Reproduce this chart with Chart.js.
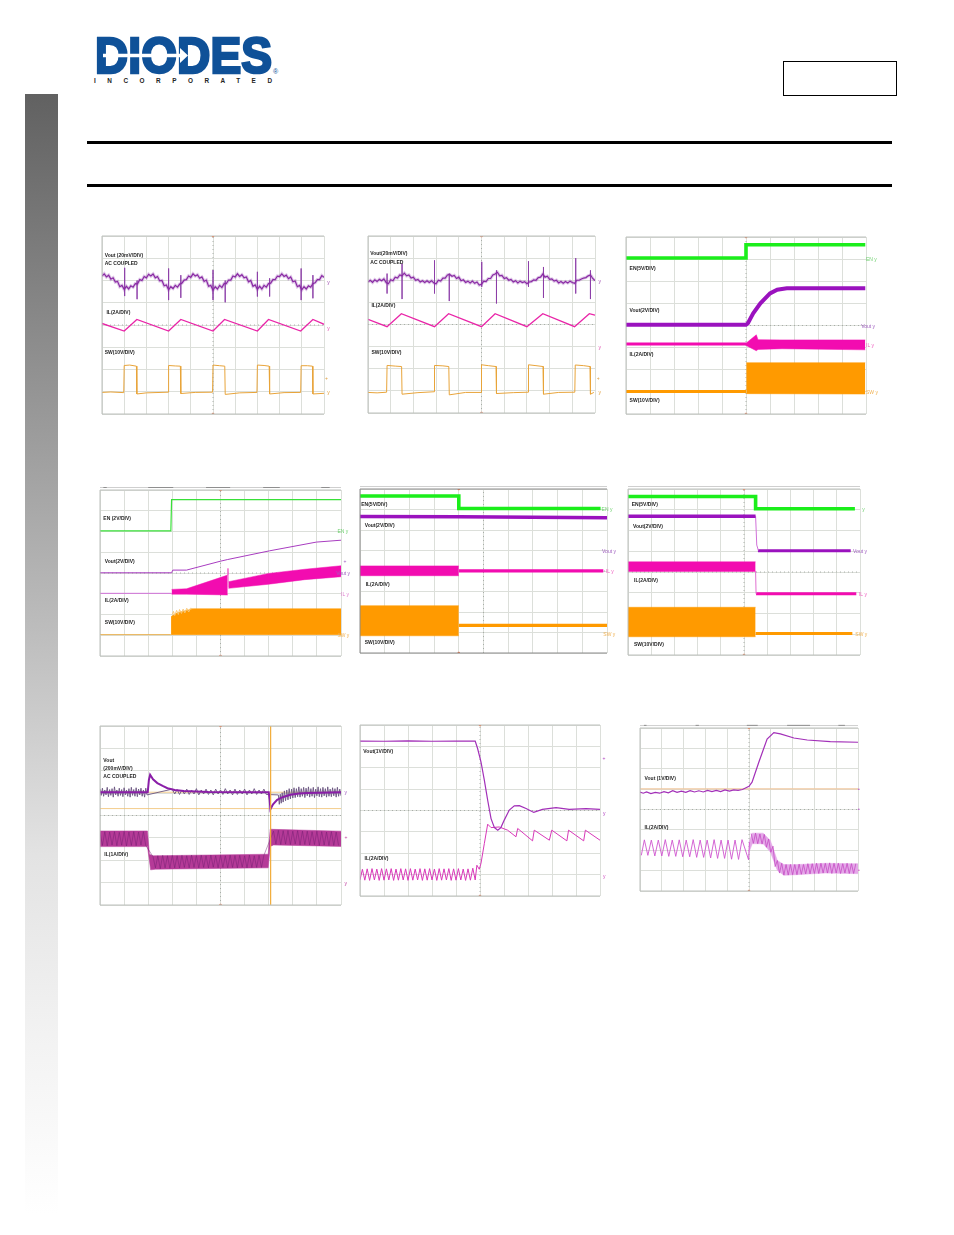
<!DOCTYPE html>
<html>
<head>
<meta charset="utf-8">
<title>Typical Performance Characteristics</title>
<script src="https://cdn.jsdelivr.net/npm/chart.js@4"></script>
<style>
    html, body { margin: 0; padding: 0; background: #fff; }
    body { position: relative; width: 954px; height: 1235px; overflow: hidden; }
    canvas { position: absolute; filter: blur(0.35px); }
    .rule { position: absolute; left: 87px; width: 805px; height: 3px; background: #000; }
    #sidebar { position: absolute; left: 25px; top: 94px; width: 33px; height: 1120px;
        background: linear-gradient(#616161 0%, #8c8c8c 22%, #bdbdbd 48%, #e3e3e3 68%, #f3f3f3 85%, #fff 100%); }
    #partbox { position: absolute; left: 783px; top: 61px; width: 112px; height: 33px; border: 1px solid #000; }
    #logo { position: absolute; left: 0; top: 0; opacity: 0.99; }
</style>
</head>
<body>
<div id="sidebar"></div>
<div id="partbox"></div>
<div class="rule" style="top:141px"></div>
<div class="rule" style="top:184px"></div>
<svg id="logo" width="300" height="90">
    <text x="95" y="72.5" font-family="Liberation Sans" font-weight="700" font-size="50" fill="#0d4f97" stroke="#0d4f97" stroke-width="2.6" textLength="177" lengthAdjust="spacingAndGlyphs">DIODES</text>
    <polygon points="103,53.8 180,53.8 180,48 188,55.5 180,63 180,57.2 103,57.2" fill="#fff"/>
    <text x="94" y="82.5" font-family="Liberation Sans" font-weight="700" font-size="6.4" fill="#222" textLength="178">INCORPORATED</text>
    <text x="273" y="74" font-family="Liberation Sans" font-size="7" fill="#0d4f97">®</text>
</svg>
<script>
// Toutes les traces sont en divisions d'oscilloscope : x 0..10, y 0..8 (0 en bas)
const axisH = [[0, 4], [10, 4]];
const axisV = [[5, 0], [5, 8]];

// Panneau 1 : ondulation
const p1Vout = [[0,6.2],[0.1,6.3],[0.2,6.16],[0.3,6.24],[0.4,6.06],[0.5,6.12],[0.6,5.93],[0.7,5.96],[0.8,5.72],[0.9,5.78],[1.0,5.6],[1.1,5.74],[1.2,5.62],[1.3,5.76],[1.4,5.7],[1.5,5.86],[1.6,5.85],[1.7,6.04],[1.8,6.0],[1.9,6.18],[2.0,6.12],[2.1,6.28],[2.2,6.2],[2.3,6.29],[2.4,6.12],[2.5,6.18],[2.6,5.98],[2.7,6.0],[2.8,5.76],[2.9,5.8],[3.0,5.58],[3.1,5.72],[3.2,5.64],[3.3,5.78],[3.4,5.7],[3.5,5.84],[3.6,5.88],[3.7,6.02],[3.8,6.04],[3.9,6.2],[4.0,6.14],[4.1,6.3],[4.2,6.2],[4.3,6.26],[4.4,6.1],[4.5,6.16],[4.6,5.96],[4.7,6.02],[4.8,5.74],[4.9,5.78],[5.0,5.56],[5.1,5.72],[5.2,5.62],[5.3,5.78],[5.4,5.68],[5.5,5.86],[5.6,5.86],[5.7,6.02],[5.8,6.02],[5.9,6.2],[6.0,6.16],[6.1,6.3],[6.2,6.18],[6.3,6.26],[6.4,6.12],[6.5,6.16],[6.6,5.94],[6.7,6.0],[6.8,5.74],[6.9,5.8],[7.0,5.6],[7.1,5.74],[7.2,5.62],[7.3,5.78],[7.4,5.7],[7.5,5.86],[7.6,5.88],[7.7,6.04],[7.8,6.04],[7.9,6.2],[8.0,6.18],[8.1,6.3],[8.2,6.18],[8.3,6.24],[8.4,6.08],[8.5,6.16],[8.6,5.94],[8.7,5.98],[8.8,5.72],[8.9,5.78],[9.0,5.58],[9.1,5.72],[9.2,5.62],[9.3,5.76],[9.4,5.7],[9.5,5.86],[9.6,5.9],[9.7,6.04],[9.8,6.04],[9.9,6.22],[10.0,6.14],[10.15,5.94]];
const p1Spikes = [[1.02,6.57],[1.02,5.3],[1.02,null],[1.58,6.0],[1.58,5.16],[1.58,null],[3.0,6.54],[3.0,5.12],[3.0,null],[3.55,6.24],[3.55,5.22],[3.55,null],[5.0,6.47],[5.0,5.12],[5.0,null],[5.55,6.0],[5.55,5.02],[5.55,null],[7.0,6.39],[7.0,5.28],[7.0,null],[7.55,6.1],[7.55,5.28],[7.55,null],[8.97,6.54],[8.97,5.12],[8.97,null],[9.5,6.24],[9.5,5.2]];
const p1IL = [[0,4.07],[1.0,3.73],[1.57,4.25],[3.0,3.73],[3.55,4.25],[5,3.73],[5.52,4.25],[7,3.73],[7.5,4.25],[8.95,3.73],[9.5,4.25],[10.15,3.97]];
const p1SW = [[0,0.97],[0.4,0.99],[0.98,0.96],[1.0,2.18],[1.25,2.2],[1.55,2.15],[1.57,0.9],[2.0,0.95],[2.98,0.98],[3.0,2.18],[3.3,2.16],[3.53,2.15],[3.55,0.92],[4.2,0.97],[4.98,0.98],[5.0,2.2],[5.3,2.17],[5.53,2.15],[5.55,0.88],[6.2,0.95],[6.98,0.97],[7.0,2.2],[7.3,2.18],[7.53,2.15],[7.55,0.9],[8.2,0.96],[8.95,0.97],[8.97,2.17],[9.25,2.17],[9.48,2.15],[9.5,0.9],[10,0.93]];

// Panneau 2 : ondulation
const p2Vout = [[0,5.92],[0.1,6.0],[0.2,5.9],[0.3,6.02],[0.4,5.94],[0.5,6.04],[0.6,5.98],[0.7,6.06],[0.8,5.9],[0.9,5.84],[1.0,6.02],[1.1,5.98],[1.2,6.14],[1.3,6.1],[1.4,6.24],[1.5,6.2],[1.6,6.32],[1.7,6.2],[1.8,6.24],[1.9,6.1],[2.0,6.14],[2.1,6.0],[2.2,6.04],[2.3,5.92],[2.4,5.98],[2.5,5.9],[2.6,5.98],[2.7,5.9],[2.8,5.98],[2.9,5.88],[3.0,5.84],[3.1,6.0],[3.2,5.96],[3.3,6.1],[3.4,6.1],[3.5,6.24],[3.6,6.26],[3.7,6.18],[3.8,6.22],[3.9,6.08],[4.0,6.14],[4.1,5.98],[4.2,6.02],[4.3,5.9],[4.4,5.96],[4.5,5.88],[4.6,5.96],[4.7,5.86],[4.8,5.92],[4.9,5.78],[5.0,5.82],[5.1,5.96],[5.2,5.94],[5.3,6.08],[5.4,6.08],[5.5,6.24],[5.6,6.28],[5.7,6.36],[5.8,6.2],[5.9,6.22],[6.0,6.08],[6.1,6.12],[6.2,6.0],[6.3,6.04],[6.4,5.92],[6.5,5.98],[6.6,5.88],[6.7,5.96],[6.8,5.9],[6.9,5.94],[7.0,5.84],[7.1,5.92],[7.2,5.94],[7.3,6.02],[7.4,6.0],[7.5,6.12],[7.6,6.14],[7.7,6.28],[7.8,6.14],[7.9,6.18],[8.0,6.04],[8.1,6.06],[8.2,5.96],[8.3,6.0],[8.4,5.88],[8.5,5.94],[8.6,5.86],[8.7,5.94],[8.8,5.88],[8.9,5.96],[9.0,5.9],[9.1,5.86],[9.2,6.0],[9.3,6.0],[9.4,6.06],[9.5,6.1],[9.6,6.12],[9.7,6.2],[9.8,6.24],[9.9,6.08],[10.0,5.98],[10.1,5.92]];
const p2Spikes = [[0.84,6.3],[0.84,5.4],[0.84,null],[1.5,6.75],[1.5,5.15],[1.5,null],[2.93,6.9],[2.93,5.4],[2.93,null],[3.58,6.3],[3.58,5.06],[3.58,null],[5.01,6.83],[5.01,5.7],[5.01,null],[5.66,6.45],[5.66,4.95],[5.66,null],[7.07,6.86],[7.07,5.7],[7.07,null],[7.73,6.6],[7.73,5.2],[7.73,null],[9.15,7.0],[9.15,5.4],[9.15,null],[9.8,6.45],[9.8,5.15]];
const p2IL = [[0,4.23],[0.84,3.9],[1.47,4.49],[2.93,3.9],[3.55,4.49],[5,3.9],[5.6,4.49],[7,3.9],[7.7,4.49],[9.1,3.9],[9.75,4.49],[10,4.42]];
const p2SW = [[0,0.93],[0.4,0.91],[0.82,0.94],[0.84,2.15],[1.2,2.12],[1.48,2.1],[1.5,0.85],[2.2,0.92],[2.91,0.96],[2.93,2.15],[3.3,2.13],[3.56,2.1],[3.58,0.82],[4.3,0.93],[4.98,0.93],[5.0,2.18],[5.3,2.14],[5.64,2.1],[5.66,0.88],[6.4,0.92],[7.05,0.94],[7.07,2.18],[7.4,2.14],[7.71,2.1],[7.73,0.85],[8.4,0.93],[9.11,0.94],[9.13,2.17],[9.5,2.14],[9.78,2.1],[9.8,0.85],[9.95,0.93]];

// Panneau 3 : démarrage par EN
const p3EN = [[0,7.05],[5,7.05],[5,7.65],[9.97,7.65]];
const p3Vout = [[0,4.03],[5,4.03],[5.08,4.1],[5.3,4.55],[5.6,5.0],[6.0,5.45],[6.3,5.62],[6.7,5.68],[9.97,5.68]];
const p3ILline = [[0,3.16],[5,3.16]];
const p3ILtop = [[5,3.2],[5.43,3.58],[5.5,3.36],[6.5,3.35],[9.97,3.35]];
const p3ILbot = [[5,3.1],[5.43,2.86],[5.5,2.92],[6.5,2.95],[9.97,2.9]];
const p3SWline = [[0,1.02],[5,1.02]];
const p3SWtop = [[5.01,2.32],[9.97,2.32]];
const p3SWbot = [[5.01,0.92],[9.97,0.9]];

// Panneau 4 : démarrage détaillé
const p4EN = [[0,6.03],[2.94,6.03],[2.97,7.54],[10,7.54]];
const p4Vout = [[0,4.01],[2.97,4.01],[3.02,4.14],[3.59,4.14],[5,4.57],[5.3,4.65],[7.04,5.07],[8.98,5.49],[10,5.58]];
const p4ILbase = [[0,3.02],[2.97,3.02]];
const p4ILspike = [[5.3,3.9],[5.31,4.22],[5.32,3.3]];
const p4ILtop1 = [[2.97,3.21],[3.59,3.24],[5.3,3.9]];
const p4ILbot1 = [[2.97,2.98],[3.59,2.98],[5.3,2.94]];
const p4ILtop2 = [[5.33,3.58],[7,3.98],[8.5,4.18],[10,4.35]];
const p4ILbot2 = [[5.33,3.26],[7,3.46],[8.5,3.68],[10,3.82]];
const p4SWbase = [[0,1.03],[2.94,1.03]];
const p4SWtop = [[2.95,1.9],[3.2,2.08],[3.87,2.28],[10,2.28]];
const p4SWbot = [[2.95,1.03],[3.2,1.03],[3.87,1.03],[10,1.03]];
const p4SWnoise = [[3.0,2.0],[3.05,2.15],[3.1,1.95],[3.18,2.2],[3.25,2.0],[3.3,2.24],[3.38,2.05],[3.45,2.26],[3.52,2.08],[3.6,2.3],[3.68,2.12],[3.75,2.3],[3.87,2.28]];
const p4Header = [[0.14,8.12],[0.28,8.12],[0.28,null],[2,8.12],[3.04,8.12],[3.04,null],[4.4,8.12],[5.4,8.12],[5.4,null],[6.77,8.12],[7.46,8.12],[7.46,null],[9.18,8.12],[9.53,8.12]];

// Panneau 5 : arrêt, EN
const p5EN = [[0,7.66],[4,7.66],[4,7.05],[9.74,7.05]];
const p5Vout = [[0,6.66],[4,6.65],[7,6.62],[10,6.6]];
const p5ILtop = [[0,4.25],[4,4.25]];
const p5ILbot = [[0,3.77],[4,3.77]];
const p5ILline = [[4,4.01],[9.85,4.01]];
const p5SWtop = [[0,2.31],[4,2.31]];
const p5SWbot = [[0,0.84],[4,0.84]];
const p5SWline = [[4,1.35],[10,1.35]];

// Panneau 6 : arrêt, EN (décharge)
const p6EN = [[0,7.64],[5.5,7.64],[5.5,7.05],[9.78,7.05]];
const p6Vout1 = [[0,6.69],[5.5,6.69]];
const p6Vfall = [[5.5,6.69],[5.55,5.3],[5.62,5.04]];
const p6Vout2 = [[5.6,5.02],[9.6,5.02]];
const p6ILtop = [[0,4.49],[5.5,4.49]];
const p6ILbot = [[0,4.03],[5.5,4.03]];
const p6ILfall = [[5.5,4.03],[5.52,2.95]];
const p6ILline = [[5.52,2.95],[9.84,2.95]];
const p6SWtop = [[0,2.3],[5.5,2.3]];
const p6SWbot = [[0,0.88],[5.5,0.88]];
const p6SWline = [[5.5,1.04],[9.67,1.04]];

// Panneau 7 : transitoire de charge
const p7Vout = [[0,5.04],[1.98,5.04],[2.03,5.6],[2.08,5.82],[2.2,5.62],[2.38,5.45],[2.6,5.32],[2.8,5.22],[3.1,5.14],[3.48,5.09],[4.5,5.05],[7.0,5.04],[7.04,4.7],[7.07,4.28],[7.18,4.5],[7.35,4.7],[7.6,4.83],[7.9,4.93],[8.25,4.98],[8.6,5.01],[10,5.04]];
const p7Noise = [[0,5.18],[0.05,4.9],[0.1,5.22],[0.15,4.86],[0.2,5.14],[0.25,4.92],[0.3,5.26],[0.35,4.84],[0.4,5.16],[0.45,4.9],[0.5,5.2],[0.55,4.82],[0.6,5.28],[0.65,4.92],[0.7,5.14],[0.75,4.86],[0.8,5.22],[0.85,4.9],[0.9,5.16],[0.95,4.84],[1.0,5.24],[1.05,4.92],[1.1,5.14],[1.15,4.86],[1.2,5.2],[1.25,4.82],[1.3,5.26],[1.35,4.9],[1.4,5.16],[1.45,4.86],[1.5,5.24],[1.55,4.84],[1.6,5.18],[1.65,4.92],[1.7,5.22],[1.75,4.86],[1.8,5.14],[1.85,4.82],[1.9,5.22],[1.95,4.92],[3.0,5.18],[3.1,4.96],[3.2,5.16],[3.3,4.94],[3.4,5.14],[3.5,4.96],[3.6,5.18],[3.7,4.94],[3.8,5.14],[3.9,4.96],[4.0,5.2],[4.1,4.92],[4.2,5.14],[4.3,4.96],[4.4,5.18],[4.5,4.94],[4.6,5.14],[4.7,4.92],[4.8,5.18],[4.9,4.96],[5.0,5.14],[5.1,4.94],[5.2,5.2],[5.3,4.96],[5.4,5.14],[5.5,4.92],[5.6,5.18],[5.7,4.94],[5.8,5.14],[5.9,4.96],[6.0,5.18],[6.1,4.92],[6.2,5.14],[6.3,4.96],[6.4,5.2],[6.5,4.94],[6.6,5.14],[6.7,4.96],[6.8,5.18],[6.9,4.94],[7.4,4.92],[7.44,4.5],[7.48,4.95],[7.52,4.55],[7.56,5.02],[7.6,4.6],[7.65,5.1],[7.7,4.66],[7.75,5.14],[7.8,4.7],[7.85,5.2],[7.9,4.74],[7.95,5.18],[8.0,4.78],[8.05,5.24],[8.1,4.8],[8.15,5.2],[8.2,4.84],[8.25,5.28],[8.3,4.82],[8.35,5.2],[8.4,4.86],[8.45,5.26],[8.5,4.8],[8.55,5.22],[8.6,4.88],[8.65,5.28],[8.7,4.82],[8.75,5.2],[8.8,4.86],[8.85,5.26],[8.9,4.8],[8.95,5.18],[9.0,4.88],[9.05,5.28],[9.1,4.84],[9.15,5.2],[9.2,4.82],[9.25,5.26],[9.3,4.88],[9.35,5.2],[9.4,4.82],[9.45,5.28],[9.5,4.86],[9.55,5.18],[9.6,4.84],[9.65,5.24],[9.7,4.88],[9.75,5.2],[9.8,4.82],[9.85,5.26],[9.9,4.86],[9.95,5.18],[10,4.88]];
const p7ILtop = [[0,3.31],[1.97,3.31],[2.05,2.27],[2.2,2.2],[6.98,2.27],[7.06,3.39],[7.2,3.38],[10,3.3]];
const p7ILbot = [[0,2.61],[1.97,2.61],[2.1,1.57],[2.3,1.6],[6.98,1.66],[7.06,2.62],[7.2,2.68],[10,2.62]];
const p7Ripple = [[0,3.25],[0.1,2.66],[0.2,3.28],[0.3,2.64],[0.4,3.26],[0.5,2.68],[0.6,3.28],[0.7,2.65],[0.8,3.25],[0.9,2.67],[1.0,3.29],[1.1,2.64],[1.2,3.26],[1.3,2.66],[1.4,3.28],[1.5,2.65],[1.6,3.26],[1.7,2.68],[1.8,3.28],[1.9,2.66],[2.2,2.16],[2.3,1.66],[2.4,2.2],[2.5,1.62],[2.6,2.22],[2.7,1.66],[2.8,2.2],[2.9,1.64],[3.0,2.22],[3.1,1.66],[3.2,2.2],[3.3,1.65],[3.4,2.22],[3.5,1.68],[3.6,2.2],[3.7,1.66],[3.8,2.23],[3.9,1.68],[4.0,2.21],[4.1,1.66],[4.2,2.23],[4.3,1.68],[4.4,2.2],[4.5,1.66],[4.6,2.23],[4.7,1.69],[4.8,2.2],[4.9,1.66],[5.0,2.22],[5.1,1.68],[5.2,2.2],[5.3,1.66],[5.4,2.23],[5.5,1.68],[5.6,2.21],[5.7,1.66],[5.8,2.22],[5.9,1.69],[6.0,2.2],[6.1,1.66],[6.2,2.23],[6.3,1.68],[6.4,2.2],[6.5,1.68],[6.6,2.22],[6.7,1.68],[6.8,2.22],[7.2,3.3],[7.3,2.72],[7.4,3.34],[7.5,2.7],[7.6,3.32],[7.7,2.72],[7.8,3.33],[7.9,2.7],[8.0,3.3],[8.1,2.72],[8.2,3.32],[8.3,2.68],[8.4,3.3],[8.5,2.7],[8.6,3.3],[8.7,2.68],[8.8,3.28],[8.9,2.7],[9.0,3.3],[9.1,2.66],[9.2,3.28],[9.3,2.68],[9.4,3.26],[9.5,2.66],[9.6,3.28],[9.7,2.66],[9.8,3.26],[9.9,2.66]];
const p7CursorV = [[7.08,0],[7.08,8]];
const p7CursorA = [[0,5.04],[10,5.04]];
const p7CursorB = [[0,4.31],[10,4.31]];

// Panneau 8 : court-circuit
const p8Vout = [[0,7.25],[1,7.24],[2,7.26],[3,7.24],[4,7.25],[4.8,7.25],[4.9,6.9],[5.04,6.28],[5.18,5.42],[5.32,4.48],[5.46,3.62],[5.6,3.2],[5.74,3.08],[5.87,3.2],[6.01,3.55],[6.22,4.02],[6.43,4.22],[6.64,4.23],[6.92,4.09],[7.24,3.91],[7.6,4.05],[8.17,4.13],[8.72,4.05],[9.42,4.09],[10,4.05]];
const p8IL = [[0,0.75],[0.1,1.25],[0.2,0.74],[0.3,1.27],[0.4,0.73],[0.5,1.28],[0.6,0.75],[0.7,1.26],[0.8,0.73],[0.9,1.28],[1.0,0.74],[1.1,1.27],[1.2,0.75],[1.3,1.28],[1.4,0.73],[1.5,1.26],[1.6,0.74],[1.7,1.28],[1.8,0.75],[1.9,1.27],[2.0,0.73],[2.1,1.28],[2.2,0.74],[2.3,1.26],[2.4,0.75],[2.5,1.28],[2.6,0.73],[2.7,1.27],[2.8,0.74],[2.9,1.28],[3.0,0.75],[3.1,1.26],[3.2,0.73],[3.3,1.28],[3.4,0.74],[3.5,1.27],[3.6,0.75],[3.7,1.28],[3.8,0.73],[3.9,1.27],[4.0,0.74],[4.1,1.28],[4.2,0.75],[4.3,1.26],[4.4,0.73],[4.5,1.27],[4.6,0.74],[4.7,1.3],[4.8,0.75],[4.87,1.44],[4.97,1.25],[5.04,1.52],[5.18,2.45],[5.32,3.36],[5.46,3.2],[5.8,3.23],[6.15,3.08],[6.5,2.77],[6.57,3.16],[7.19,2.58],[7.26,3.08],[7.89,2.61],[7.99,3.08],[8.62,2.58],[8.69,3.08],[9.32,2.58],[9.39,3.08],[10,2.61]];

// Panneau 9 : reprise de charge
const p9Vout = [[0,4.85],[0.15,4.8],[0.3,4.86],[0.5,4.78],[0.7,4.84],[0.9,4.8],[1.1,4.88],[1.3,4.82],[1.5,4.92],[1.7,4.84],[1.9,4.9],[2.1,4.84],[2.3,4.92],[2.5,4.86],[2.7,4.92],[2.9,4.86],[3.1,4.94],[3.3,4.88],[3.5,4.94],[3.7,4.88],[3.9,4.96],[4.1,4.9],[4.3,4.96],[4.5,4.94],[4.7,4.98],[5,5.14],[5.14,5.34],[5.45,6.32],[5.83,7.46],[6.14,7.77],[6.44,7.71],[7.06,7.51],[7.67,7.41],[8.73,7.33],[10,7.3]];
const p9ILsaw = [[0.06,1.75],[0.2,2.51],[0.36,1.75],[0.52,2.5],[0.68,1.72],[0.84,2.5],[1.0,1.72],[1.16,2.52],[1.32,1.7],[1.48,2.5],[1.64,1.7],[1.8,2.51],[1.96,1.68],[2.12,2.5],[2.28,1.68],[2.44,2.52],[2.6,1.65],[2.76,2.5],[2.92,1.65],[3.08,2.5],[3.24,1.62],[3.4,2.52],[3.56,1.6],[3.72,2.5],[3.88,1.6],[4.04,2.5],[4.2,1.56],[4.36,2.5],[4.52,1.55],[4.68,2.52],[4.98,1.53],[5.02,2.4]];
const p9ILtop = [[5.0,2.4],[5.15,2.84],[5.65,2.84],[5.98,2.48],[6.3,1.5],[6.6,1.3],[7.2,1.3],[8.5,1.36],[10,1.34]];
const p9ILbot = [[5.0,1.9],[5.15,2.32],[5.65,2.32],[5.98,1.91],[6.3,1.01],[6.6,0.77],[7.2,0.8],[8.5,0.88],[10,0.85]];
const p9Ripple = [[5.1,2.82],[5.2,2.34],[5.3,2.84],[5.4,2.32],[5.5,2.8],[5.6,2.3],[5.7,2.78],[5.8,2.15],[5.9,2.55],[6.0,1.9],[6.1,2.2],[6.2,1.2],[6.3,1.5],[6.4,0.88],[6.5,1.36],[6.6,0.78],[6.7,1.3],[6.8,0.78],[6.9,1.3],[7.0,0.8],[7.1,1.3],[7.2,0.8],[7.3,1.32],[7.4,0.82],[7.5,1.3],[7.6,0.84],[7.7,1.34],[7.8,0.84],[7.9,1.34],[8.0,0.86],[8.1,1.36],[8.2,0.86],[8.3,1.36],[8.4,0.88],[8.5,1.36],[8.6,0.88],[8.7,1.38],[8.8,0.86],[8.9,1.36],[9.0,0.88],[9.1,1.36],[9.2,0.86],[9.3,1.34],[9.4,0.88],[9.5,1.36],[9.6,0.86],[9.7,1.34],[9.8,0.86],[9.9,1.34]];
const p9Flat = [[0,5.01],[10,5.01]];
const p9Header = [[0.18,8.13],[0.3,8.13],[0.3,null],[2.55,8.13],[2.7,8.13],[2.7,null],[4.9,8.13],[5.4,8.13],[5.4,null],[6.75,8.13],[7.8,8.13],[7.8,null],[9.1,8.13],[9.4,8.13]];

const topStrip = [[0,8.12],[10,8.12]];

const cGreen = '#1bee1b', cPurple = '#9a12be', cPink = '#f20cb0', cOrange = '#ff9a00';

function line(data, color, width, extra) {
    return Object.assign({ data, borderColor: color, borderWidth: width, pointRadius: 0, tension: 0, fill: false }, extra);
}
// Bande entre deux courbes (signal de commutation vu de loin)
function band(top, bot, color) {
    return [
        line(top, color, 0.5, { fill: '+1', backgroundColor: color }),
        line(bot, color, 0.5)
    ];
}
function trigger(x) {
    return line([[x, 0], [x, 8]], 'rgba(0,0,0,0)', 0, { pointRadius: 1.3, pointBackgroundColor: '#ee6a3a', pointBorderWidth: 0 });
}
function header(data) {
    return [line(data, '#8f8f8f', 1, { clip: false }), line(topStrip, '#cfcfcf', 1, { clip: false })];
}

const panels = [
    { left: 102, top: 236, w: 222, h: 178, center: 5,
      labels: [['Vout (20mV/DIV)', 0.12, 7.1], ['AC COUPLED', 0.12, 6.75], ['IL(2A/DIV)', 0.2, 4.55], ['SW(10V/DIV)', 0.12, 2.74]],
      marks: [['y', 10.15, 5.9, '#a050b0'], ['y', 10.15, 3.85, '#e050b0'], ['+', 10.05, 1.6, '#e0a040'], ['y', 10.15, 0.95, '#e0a040']],
      traces: [line(p1Vout, '#8a2aa4', 1.2), line(p1Spikes, '#8a3aa6', 0.7), line(p1Vout, 'rgba(150,70,180,0.3)', 3.2), line(p1IL, '#e925a8', 1.3), line(p1SW, '#e8a43a', 1)] },
    { left: 368, top: 236, w: 227, h: 177, center: 5,
      labels: [['Vout(20mV/DIV)', 0.1, 7.2], ['AC COUPLED', 0.1, 6.8], ['IL(2A/DIV)', 0.15, 4.85], ['SW(10V/DIV)', 0.15, 2.75]],
      marks: [['y', 10.15, 5.95, '#a050b0'], ['y', 10.15, 2.95, '#e050b0'], ['+', 10.08, 1.55, '#e0a040'], ['y', 10.15, 0.9, '#e0a040']],
      traces: [line(p2Vout, '#8a2aa4', 1.2), line(p2Spikes, '#8a3aa6', 0.7), line(p2Vout, 'rgba(150,70,180,0.3)', 3.2), line(p2IL, '#e925a8', 1.3), line(p2SW, '#e8a43a', 1)] },
    { left: 626, top: 237, w: 240, h: 177, center: 5,
      labels: [['EN(5V/DIV)', 0.15, 6.56], ['Vout(2V/DIV)', 0.15, 4.66], ['IL(2A/DIV)', 0.15, 2.68], ['SW(10V/DIV)', 0.15, 0.6]],
      marks: [['EN y', 10.0, 7.0, '#70d070'], ['Vout y', 9.8, 3.97, '#a060c0'], ['IL y', 10.0, 3.1, '#f060c0'], ['SW y', 10.0, 0.95, '#f0b050']],
      traces: [line(p3EN, cGreen, 3.6), line(p3Vout, cPurple, 4), line(p3ILline, cPink, 3),
          ...band(p3ILtop, p3ILbot, cPink), line(p3SWline, cOrange, 3), ...band(p3SWtop, p3SWbot, cOrange)] },
    { left: 100, top: 490, w: 241.5, h: 166, center: 5,
      labels: [['EN (2V/DIV)', 0.14, 6.63], ['Vout(2V/DIV)', 0.2, 4.54], ['IL(2A/DIV)', 0.2, 2.66], ['SW(10V/DIV)', 0.2, 1.6]],
      marks: [['EN y', 9.85, 6.0, '#70d070'], ['+', 10.1, 4.55, '#a060c0'], ['Vout y', 9.8, 3.95, '#a060c0'], ['IL y', 10.0, 2.95, '#e080d0'], ['SW y', 9.85, 1.0, '#f0b050']],
      traces: [...header(p4Header), line(p4EN, '#38e038', 1.2), line(p4Vout, '#a83cc0', 1), line(p4ILbase, '#d070d8', 1), line(p4ILspike, '#f060c8', 1),
          ...band(p4ILtop1, p4ILbot1, cPink), ...band(p4ILtop2, p4ILbot2, cPink),
          line(p4SWbase, '#e8b050', 1), line(p4SWnoise, '#f8c878', 1), ...band(p4SWtop, p4SWbot, cOrange)] },
    { left: 360, top: 489, w: 247, h: 164, center: 5, frame: '#8a8a8a',
      labels: [['EN(5V/DIV)', 0.05, 7.22], ['Vout(2V/DIV)', 0.19, 6.2], ['IL(2A/DIV)', 0.23, 3.34], ['SW(10V/DIV)', 0.19, 0.52]],
      marks: [['EN y', 9.78, 7.0, '#70d070'], ['Vout y', 9.8, 4.95, '#a060c0'], ['IL y', 9.95, 3.98, '#f060c0'], ['SW y', 9.85, 0.9, '#f0b050']],
      traces: [line(topStrip, '#cfcfcf', 1, { clip: false }), line(p5EN, cGreen, 3.6), line(p5Vout, cPurple, 3.6), ...band(p5ILtop, p5ILbot, cPink), line(p5ILline, cPink, 3.2),
          ...band(p5SWtop, p5SWbot, cOrange), line(p5SWline, cOrange, 3.4)],
      trig: 4 },
    { left: 627.5, top: 489, w: 232, h: 166, center: 5,
      labels: [['EN(5V/DIV)', 0.16, 7.27], ['Vout(2V/DIV)', 0.22, 6.2], ['IL(2A/DIV)', 0.26, 3.6], ['SW(10V/DIV)', 0.26, 0.48]],
      marks: [['y', 10.1, 7.0, '#70d070'], ['Vout y', 9.7, 5.0, '#a060c0'], ['IL y', 9.95, 2.92, '#f060c0'], ['SW y', 9.8, 1.0, '#f0b050']],
      traces: [line(topStrip, '#cfcfcf', 1, { clip: false }), line(p6EN, cGreen, 3.6), line(p6Vout1, cPurple, 3.4), line(p6Vfall, '#d070d8', 1), line(p6Vout2, cPurple, 3),
          ...band(p6ILtop, p6ILbot, cPink), line(p6ILfall, '#e070d0', 1), line(p6ILline, cPink, 3),
          ...band(p6SWtop, p6SWbot, cOrange), line(p6SWline, cOrange, 3)] },
    { left: 99.5, top: 726, w: 241.5, h: 179, center: 5,
      labels: [['Vout', 0.14, 6.46], ['(200mV/DIV)', 0.14, 6.09], ['AC COUPLED', 0.14, 5.75], ['IL(1A/DIV)', 0.18, 2.24]],
      marks: [['y', 10.15, 5.04, '#a060c0'], ['+', 10.15, 3.0, '#c040a0'], ['y', 10.15, 0.95, '#c040a0']],
      traces: [line(p7CursorV, '#f2ac3a', 1.2), line(p7Vout, '#8a1ea8', 2), line(p7Noise, '#6a5580', 0.9),
          line(p7CursorA, '#f0c070', 0.8), line(p7CursorB, '#f0c070', 0.8),
          line(p7Ripple, 'rgba(110,30,110,0.75)', 0.6), ...band(p7ILtop, p7ILbot, '#b53a98')] },
    { left: 359.5, top: 725, w: 240, h: 171, center: 5,
      labels: [['Vout(1V/DIV)', 0.14, 6.75], ['IL(2A/DIV)', 0.19, 1.75]],
      marks: [['+', 10.1, 6.45, '#b040c0'], ['y', 10.12, 3.85, '#b040c0'], ['y', 10.12, 0.9, '#d050c0']],
      traces: [line(p8Vout, '#a22fb8', 1.2), line(p8IL, '#d838b8', 1)] },
    { left: 639.5, top: 727.5, w: 218.5, h: 163, center: 5,
      labels: [['Vout (1V/DIV)', 0.21, 5.5], ['IL(2A/DIV)', 0.21, 3.1]],
      marks: [['•', 10.0, 5.0, '#b040c0'], ['•', 10.0, 4.0, '#b040c0'], ['•', 10.0, 1.0, '#d050c0']],
      traces: [...header(p9Header), line(p9Vout, '#a22fb8', 1.2), line(p9ILsaw, '#cf55cf', 0.9), line(p9Ripple, '#c54cc4', 0.8),
          ...band(p9ILtop, p9ILbot, '#e4a8e8'), line(p9Flat, '#f0c8a0', 1.2)] }
];

// Cadre sans bord droit et textes de l'oscillogramme, placés via les échelles
function scopeText(p) {
    return {
        id: 'scopeText',
        afterDatasetsDraw(chart) {
            const { ctx, scales: { x, y }, chartArea: a } = chart;
            ctx.save();
            ctx.strokeStyle = p.frame || '#bcc0bc';
            ctx.lineWidth = 1;
            ctx.beginPath();
            ctx.moveTo(a.right, a.top);
            ctx.lineTo(a.left, a.top);
            ctx.lineTo(a.left, a.bottom);
            ctx.lineTo(a.right, a.bottom);
            ctx.stroke();
            ctx.textBaseline = 'middle';
            ctx.textAlign = 'left';
            ctx.font = 'bold 5px "Liberation Sans"';
            ctx.fillStyle = '#262626';
            p.labels.forEach(([text, lx, ly]) => ctx.fillText(text, x.getPixelForValue(lx), y.getPixelForValue(ly)));
            ctx.font = '5px "Liberation Sans"';
            p.marks.forEach(([text, lx, ly, color]) => {
                ctx.fillStyle = color;
                ctx.fillText(text, x.getPixelForValue(lx), y.getPixelForValue(ly));
            });
            ctx.restore();
        }
    };
}

const INSET = 4; // marge laissée par les axes masqués
const RIGHT = 16;

panels.forEach((p) => {
    const canvas = document.createElement('canvas');
    canvas.width = p.w + INSET + RIGHT;
    canvas.height = p.h + INSET * 2;
    canvas.style.left = (p.left - INSET) + 'px';
    canvas.style.top = (p.top - INSET) + 'px';
    document.body.appendChild(canvas);

    const guides = [
        line(axisH, '#9a9f9a', 0.8, { borderDash: [1, 3] }),
        line(axisV, '#9a9f9a', 0.8, { borderDash: [1, 3] }),
        trigger(p.trig || p.center)
    ];

    new Chart(canvas.getContext('2d'), {
        type: 'line',
        data: { datasets: [...p.traces, ...guides] },
        options: {
            responsive: false,
            animation: false,
            devicePixelRatio: 1,
            layout: { padding: { left: 0, right: RIGHT, top: 0, bottom: 0 } },
            plugins: { legend: { display: false }, tooltip: { enabled: false } },
            scales: {
                x: {
                    type: 'linear', min: 0, max: 10,
                    ticks: { display: false, stepSize: 1 },
                    border: { display: false },
                    grid: { color: '#dcdfda', lineWidth: 1, drawTicks: false }
                },
                y: {
                    type: 'linear', min: 0, max: 8,
                    ticks: { display: false, stepSize: 1 },
                    border: { display: false },
                    grid: { color: '#dcdfda', lineWidth: 1, drawTicks: false }
                }
            }
        },
        plugins: [scopeText(p)]
    });
});
</script>
</body>
</html>
